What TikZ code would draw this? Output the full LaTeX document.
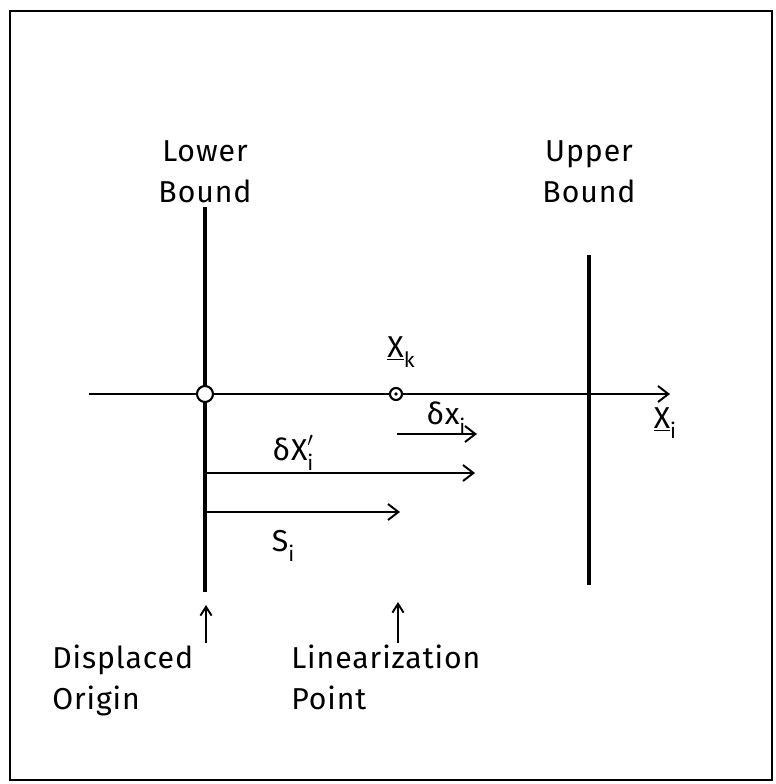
\documentclass[tikz,border=0pt]{standalone}
\usepackage{fontspec}
\setmainfont[LetterSpace=3]{Fira Sans}
\usetikzlibrary{arrows.meta,positioning}
\newcommand\lowsub[1]{\raisebox{-0.6ex}{\fontsize{15}{15}\selectfont#1}}

\begin{document}
\begin{tikzpicture}[x=0.025cm,y=-0.025cm,
    lbl/.style={font=\fontsize{21.5}{29}\selectfont,inner sep=0pt},
    bound/.style={line width=2.3pt},
    vec/.style={line width=1.4pt,-{Straight Barb[length=2.6mm,width=4mm,line width=1.4pt]}},
    pointer/.style={line width=1.4pt,-{Straight Barb[length=2.2mm,width=2.8mm]}},
    pt/.style={circle,draw,line width=1.5pt,fill=white,inner sep=0pt}
  ]
  \useasboundingbox (0,0) rectangle (776,784);
  \draw[line width=2pt] (10,11) rectangle (772,780);

  % bounds
  \coordinate (lbtop) at (205,207);
  \coordinate (lbbot) at (205,592);
  \coordinate (ubtop) at (589,255);
  \coordinate (ubbot) at (589,585);
  \draw[bound] (lbtop) -- (lbbot);
  \draw[bound] (ubtop) -- (ubbot);
  \node[lbl,align=center,above=0.1cm of lbtop] (lower) {Lower\\Bound};
  \node[lbl,align=center,above=1.3cm of ubtop] (upper) {Upper\\Bound};

  % axis
  \coordinate (xstart) at (89,394);
  \coordinate (xend) at (670,394);
  \draw[vec] (xstart) -- (xend);
  \node[pt,minimum size=0.4cm] (orig) at (205,394) {};
  \node[pt,minimum size=0.3cm] (lin) at (396,394) {};
  \fill (lin) circle (1.3pt);
  \node[lbl] (xk) at (401,352) {\underline{X}\lowsub{k}};
  \node[lbl] (xi) at (665,423) {\underline{X}\lowsub{i}};

  % steps
  \coordinate (dxs) at (397,434);
  \coordinate (dxe) at (477,434);
  \coordinate (dXs) at (205,473);
  \coordinate (dXe) at (475,473);
  \coordinate (ss) at (205,512);
  \coordinate (se) at (400,512);
  \draw[vec] (dxs) -- (dxe);
  \draw[vec] (dXs) -- (dXe);
  \draw[vec] (ss) -- (se);
  \node[lbl] (dx) at (446,418) {δx\lowsub{i}};
  \node[lbl] (dX) at (293,453) {δX\rlap{\raisebox{0.2ex}{$^{\prime}$}}\lowsub{i}};
  \node[lbl] (s) at (283,546) {S\lowsub{i}};

  % pointers
  \coordinate (o1) at (206,643);
  \coordinate (o2) at (206,605);
  \coordinate (l1) at (398,643);
  \coordinate (l2) at (398,602);
  \draw[pointer] (o1) -- (o2);
  \draw[pointer] (l1) -- (l2);
  \node[lbl,align=left,anchor=north west] (disp) at (52,645) {Displaced\\Origin};
  \node[lbl,align=left,anchor=north west] (linpt) at (291,645) {Linearization\\Point};
\end{tikzpicture}
\end{document}
